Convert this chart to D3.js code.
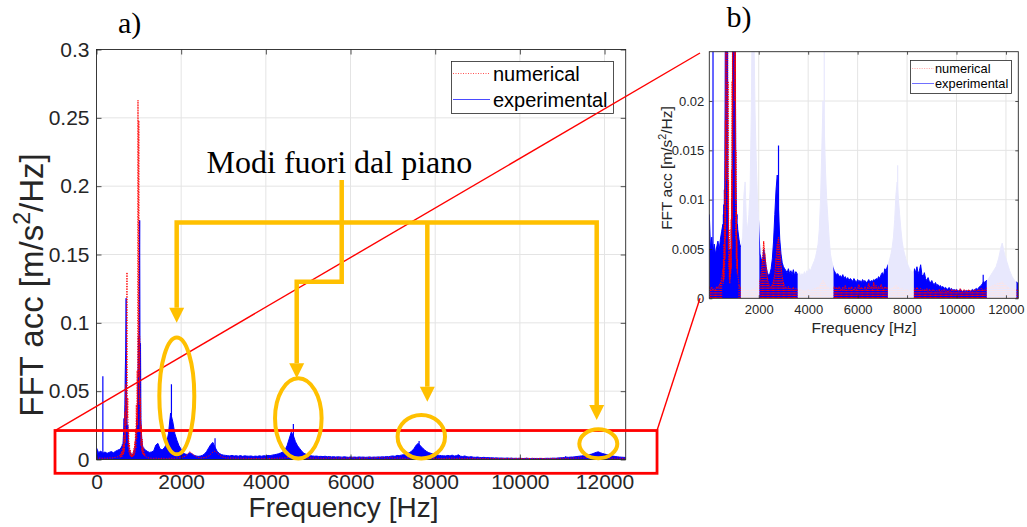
<!DOCTYPE html>
<html>
<head>
<meta charset="utf-8">
<script src="https://cdn.jsdelivr.net/npm/d3@7"></script>
<style>
  html, body { margin: 0; padding: 0; background: #fff; }
  svg { display: block; }
</style>
</head>
<body>
<svg id="fig" width="1027" height="527"></svg>
<script>
// ---------------------------------------------------------------
// Spectra (FFT of acceleration, m/s^2/Hz)
// Coarse bins every 50 Hz, fine bins every 10 Hz around the first modes
// ---------------------------------------------------------------
const COARSE_DF = 50, FINE_DF = 10;
const LOW_F0 = 0, PEAK_F0 = 550, HIGH_F0 = 1200;

// experimental, 0–500 Hz
const expLow = [0.0085, 0.0050, 0.0062, 0.0046, 0.0055, 0.0045, 0.0052, 0.0058, 0.0049, 0.0060, 0.0068];
// experimental, 550–1150 Hz (10 Hz bins)
const expPeak = [
  0.0075, 0.0060, 0.0085, 0.0070, 0.0095,
  0.0080, 0.0110, 0.0090, 0.0140, 0.0200,
  0.0300, 0.0250, 0.0400, 0.0650, 0.0800,
  0.1180, 0.0450, 0.0300, 0.0200, 0.0250,
  0.0120, 0.0090, 0.0070, 0.0050, 0.0060,
  0.0040, 0.0050, 0.0030, 0.0035, 0.0025,
  0.0040, 0.0030, 0.0050, 0.0040, 0.0070,
  0.0060, 0.0100, 0.0090, 0.0150, 0.0200,
  0.0300, 0.0250, 0.0450, 0.0600, 0.0900,
  0.0700, 0.1200, 0.1750, 0.0500, 0.0850,
  0.0300, 0.0200, 0.0150, 0.0120, 0.0100,
  0.0090, 0.0080, 0.0085, 0.0070, 0.0075,
  0.0070
];
// experimental, 1200–12500 Hz
const expHigh = [
  0.0060, 0.0052, 0.0055, 0.0062, 0.0105, 0.0118, 0.0078, 0.0070, 0.0085, 0.0110, // 1200
  0.0190, 0.0340, 0.0280, 0.0190, 0.0140, 0.0100, 0.0075, 0.0045, 0.0040, 0.0036, // 1700
  0.0050, 0.0042, 0.0032, 0.0026, 0.0023, 0.0025, 0.0030, 0.0040, 0.0058, 0.0085, // 2200
  0.0110, 0.0125, 0.0090, 0.0060, 0.0045, 0.0036, 0.0032, 0.0030, 0.0028, 0.0026, // 2700
  0.0030, 0.0025, 0.0028, 0.0024, 0.0029, 0.0023, 0.0027, 0.0025, 0.0024, 0.0026, // 3200
  0.0022, 0.0025, 0.0023, 0.0027, 0.0024, 0.0028, 0.0026, 0.0030, 0.0028, 0.0032, // 3700
  0.0035, 0.0038, 0.0042, 0.0048, 0.0055, 0.0070, 0.0100, 0.0150, 0.0200, 0.0175, // 4200
  0.0130, 0.0100, 0.0080, 0.0060, 0.0045, 0.0038, 0.0032, 0.0028, 0.0026, 0.0024, // 4700
  0.0025, 0.0022, 0.0023, 0.0021, 0.0024, 0.0020, 0.0022, 0.0019, 0.0021, 0.0018, // 5200
  0.0020, 0.0019, 0.0017, 0.0020, 0.0018, 0.0016, 0.0019, 0.0017, 0.0018, 0.0016, // 5700
  0.0019, 0.0017, 0.0018, 0.0016, 0.0017, 0.0019, 0.0016, 0.0018, 0.0017, 0.0019, // 6200
  0.0018, 0.0020, 0.0019, 0.0022, 0.0020, 0.0024, 0.0026, 0.0023, 0.0030, 0.0028, // 6700
  0.0032, 0.0035, 0.0040, 0.0045, 0.0052, 0.0062, 0.0080, 0.0105, 0.0118, 0.0100, // 7200
  0.0085, 0.0070, 0.0058, 0.0050, 0.0045, 0.0040, 0.0036, 0.0033, 0.0030, 0.0028, // 7700
  0.0027, 0.0026, 0.0030, 0.0026, 0.0032, 0.0025, 0.0028, 0.0034, 0.0024, 0.0022, // 8200
  0.0026, 0.0020, 0.0018, 0.0021, 0.0017, 0.0016, 0.0018, 0.0015, 0.0014, 0.0016, // 8700
  0.0013, 0.0014, 0.0012, 0.0013, 0.0011, 0.0012, 0.0010, 0.0011, 0.0010, 0.0009, // 9200
  0.0011, 0.0009, 0.0010, 0.0008, 0.0009, 0.0008, 0.0009, 0.0008, 0.0007, 0.0009, // 9700
  0.0008, 0.0007, 0.0008, 0.0007, 0.0008, 0.0007, 0.0008, 0.0007, 0.0008, 0.0009, // 10200
  0.0008, 0.0009, 0.0010, 0.0009, 0.0011, 0.0012, 0.0013, 0.0015, 0.0017, 0.0016, // 10700
  0.0018, 0.0018, 0.0020, 0.0022, 0.0024, 0.0026, 0.0028, 0.0030, 0.0032, 0.0036, // 11200
  0.0040, 0.0046, 0.0052, 0.0056, 0.0050, 0.0044, 0.0040, 0.0036, 0.0032, 0.0028, // 11700
  0.0025, 0.0022, 0.0020, 0.0018, 0.0017, 0.0016, 0.0015                          // 12200
];
// narrow experimental peaks [Hz, amplitude]
const expSpikes = [[150, 0.061], [1770, 0.055], [2800, 0.0155], [4650, 0.026], [7620, 0.0135], [11080, 0.0024]];

// numerical, 0–500 Hz
const numLow = [0.0012, 0.0009, 0.0011, 0.0008, 0.0010, 0.0009, 0.0012, 0.0010, 0.0013, 0.0016, 0.0020];
// numerical, 550–1150 Hz (10 Hz bins)
const numPeak = [
  0.0030, 0.0015, 0.0040, 0.0018, 0.0055,
  0.0020, 0.0075, 0.0030, 0.0110, 0.0040,
  0.0180, 0.0060, 0.0350, 0.0120, 0.0550,
  0.0250, 0.0800, 0.1370, 0.0300, 0.0450,
  0.0090, 0.0220, 0.0050, 0.0120, 0.0030,
  0.0070, 0.0020, 0.0045, 0.0015, 0.0035,
  0.0020, 0.0050, 0.0025, 0.0080, 0.0030,
  0.0130, 0.0050, 0.0220, 0.0080, 0.0400,
  0.0150, 0.0650, 0.0250, 0.2630, 0.0600,
  0.2480, 0.0400, 0.0900, 0.0200, 0.0450,
  0.0100, 0.0250, 0.0060, 0.0150, 0.0040,
  0.0090, 0.0030, 0.0060, 0.0025, 0.0040,
  0.0025
];
// numerical, 1200–12500 Hz
const numHigh = [
  0.0014, 0.0011, 0.0009, 0.0008, 0.0010, 0.0008, 0.0007, 0.0009, 0.0008, 0.0007, // 1200
  0.0009, 0.0008, 0.0010, 0.0009, 0.0011, 0.0012, 0.0015, 0.0018, 0.0025, 0.0040, // 1700
  0.0058, 0.0045, 0.0032, 0.0021, 0.0015, 0.0012, 0.0011, 0.0014, 0.0018, 0.0025, // 2200
  0.0040, 0.0055, 0.0062, 0.0048, 0.0034, 0.0022, 0.0016, 0.0012, 0.0011, 0.0010, // 2700
  0.0012, 0.0009, 0.0010, 0.0009, 0.0011, 0.0008, 0.0010, 0.0009, 0.0008, 0.0007, // 3200
  0.0009, 0.0007, 0.0008, 0.0006, 0.0008, 0.0007, 0.0009, 0.0008, 0.0007, 0.0009, // 3700
  0.0008, 0.0010, 0.0009, 0.0011, 0.0010, 0.0012, 0.0014, 0.0016, 0.0018, 0.0016, // 4200
  0.0014, 0.0012, 0.0011, 0.0010, 0.0009, 0.0010, 0.0009, 0.0012, 0.0010, 0.0011, // 4700
  0.0009, 0.0012, 0.0010, 0.0008, 0.0011, 0.0009, 0.0013, 0.0010, 0.0008, 0.0011, // 5200
  0.0009, 0.0012, 0.0010, 0.0008, 0.0011, 0.0009, 0.0010, 0.0014, 0.0009, 0.0011, // 5700
  0.0010, 0.0008, 0.0012, 0.0009, 0.0011, 0.0015, 0.0010, 0.0012, 0.0009, 0.0016, // 6200
  0.0011, 0.0013, 0.0009, 0.0012, 0.0010, 0.0014, 0.0011, 0.0009, 0.0012, 0.0010, // 6700
  0.0011, 0.0009, 0.0008, 0.0010, 0.0009, 0.0011, 0.0012, 0.0013, 0.0012, 0.0011, // 7200
  0.0010, 0.0009, 0.0010, 0.0008, 0.0009, 0.0008, 0.0009, 0.0008, 0.0007, 0.0008, // 7700
  0.0007, 0.0009, 0.0010, 0.0008, 0.0011, 0.0009, 0.0008, 0.0010, 0.0009, 0.0008, // 8200
  0.0009, 0.0008, 0.0010, 0.0007, 0.0009, 0.0008, 0.0007, 0.0009, 0.0008, 0.0007, // 8700
  0.0008, 0.0007, 0.0009, 0.0006, 0.0008, 0.0007, 0.0009, 0.0007, 0.0008, 0.0006, // 9200
  0.0008, 0.0007, 0.0009, 0.0008, 0.0007, 0.0009, 0.0008, 0.0007, 0.0008, 0.0010, // 9700
  0.0008, 0.0007, 0.0009, 0.0008, 0.0007, 0.0008, 0.0009, 0.0007, 0.0008, 0.0007, // 10200
  0.0008, 0.0009, 0.0007, 0.0008, 0.0009, 0.0008, 0.0010, 0.0009, 0.0008, 0.0009, // 10700
  0.0010, 0.0011, 0.0010, 0.0012, 0.0011, 0.0013, 0.0012, 0.0014, 0.0013, 0.0015, // 11200
  0.0014, 0.0016, 0.0015, 0.0017, 0.0015, 0.0014, 0.0013, 0.0012, 0.0011, 0.0010, // 11700
  0.0010, 0.0009, 0.0010, 0.0009, 0.0008, 0.0009, 0.0008                          // 12200
];

// axis ticks
const mainXTicks = [0, 2000, 4000, 6000, 8000, 10000, 12000];
const mainXTickLabels = ["0", "2000", "4000", "6000", "8000", "10000", "12000"];
const mainYTicks = [0, 0.05, 0.1, 0.15, 0.2, 0.25, 0.3];
const mainYTickLabels = ["0", "0.05", "0.1", "0.15", "0.2", "0.25", "0.3"];
const zoomXTicks = [2000, 4000, 6000, 8000, 10000, 12000];
const zoomXTickLabels = ["2000", "4000", "6000", "8000", "10000", "12000"];
const zoomYTicks = [0, 0.005, 0.01, 0.015, 0.02];
const zoomYTickLabels = ["0", "0.005", "0.01", "0.015", "0.02"];

// frequency bands of the out-of-plane modes (shaded in the zoom panel)
const outOfPlaneBands = [[1275, 2025], [3575, 5025], [7225, 8275], [11225, 12425]];
// ellipses around the out-of-plane peaks: centre Hz, centre amp, radius Hz, radius amp
const modeRings = [[1897, 0.0465, 413, 0.0427], [4767, 0.0301, 550, 0.0293],
                   [7672, 0.0167, 560, 0.0159], [11853, 0.0115, 449, 0.0106]];
// ---------------------------------------------------------------

const svg = d3.select("#fig");
const FONT = '"Liberation Sans", Arial, sans-serif';
const SERIF = '"Liberation Serif", "Times New Roman", serif';
const AX = "#262626", GRID = "#e4e4e4";

function series(low, peak, high) {
  const pts = [];
  low.forEach((v, i) => pts.push([LOW_F0 + i * COARSE_DF, v]));
  peak.forEach((v, i) => pts.push([PEAK_F0 + i * FINE_DF, v]));
  high.forEach((v, i) => pts.push([HIGH_F0 + i * COARSE_DF, v]));
  return pts;
}
const expData = series(expLow, expPeak, expHigh);
const numData = series(numLow, numPeak, numHigh);
// coarse numerical bins only, used for the dotted stems of the zoom panel
const numCoarse = numData.filter(d => d[0] < PEAK_F0 || d[0] >= HIGH_F0);

// panel a scales
const xA = d3.scaleLinear().domain([0, 12500]).range([96.5, 625.7]);
const yA = d3.scaleLinear().domain([0, 0.3]).range([459.5, 49.5]);
// panel b scales
const xB = d3.scaleLinear().domain([0, 12500]).range([709.3, 1018.3]);
const yB = d3.scaleLinear().domain([0, 0.025]).range([298.3, 51.7]);

const defs = svg.append("defs");

function grid(x, y, xTicks, yTicks) {
  const [x0, x1] = x.range(), [y0, y1] = y.range();
  const g = svg.append("g");
  g.selectAll("line.gx").data(xTicks).join("line")
    .attr("x1", d => x(d)).attr("x2", d => x(d)).attr("y1", y0).attr("y2", y1)
    .attr("stroke", GRID).attr("stroke-width", 1);
  g.selectAll("line.gy").data(yTicks).join("line")
    .attr("x1", x0).attr("x2", x1).attr("y1", d => y(d)).attr("y2", d => y(d))
    .attr("stroke", GRID).attr("stroke-width", 1);
}

function axes(x, y, xTicks, xLabels, yTicks, yLabels, fs, tick, padX, padY) {
  const [x0, x1] = x.range(), [y0, y1] = y.range();
  const g = svg.append("g");
  const style = sel => {
    sel.select(".domain").remove();
    sel.selectAll(".tick line").attr("stroke", AX).attr("stroke-width", 0.8);
    sel.selectAll(".tick text").attr("font-size", fs).attr("font-family", FONT).attr("fill", AX);
  };
  g.append("g").attr("transform", `translate(0,${y0})`)
    .call(d3.axisBottom(x).tickValues(xTicks).tickFormat((d, i) => xLabels[i]).tickSizeInner(-tick).tickSizeOuter(0).tickPadding(padX))
    .call(style);
  g.append("g").attr("transform", `translate(0,${y1})`)
    .call(d3.axisTop(x).tickValues(xTicks).tickFormat("").tickSizeInner(-tick).tickSizeOuter(0))
    .call(style);
  g.append("g").attr("transform", `translate(${x0},0)`)
    .call(d3.axisLeft(y).tickValues(yTicks).tickFormat((d, i) => yLabels[i]).tickSizeInner(-tick).tickSizeOuter(0).tickPadding(padY))
    .call(style);
  g.append("g").attr("transform", `translate(${x1},0)`)
    .call(d3.axisRight(y).tickValues(yTicks).tickFormat("").tickSizeInner(-tick).tickSizeOuter(0))
    .call(style);
  g.append("rect").attr("x", x0).attr("y", y1).attr("width", x1 - x0).attr("height", y0 - y1)
    .attr("fill", "none").attr("stroke", AX).attr("stroke-width", 0.9);
}

function clipRects(id, rects) {
  const cp = defs.append("clipPath").attr("id", id);
  rects.forEach(r => cp.append("rect").attr("x", r[0]).attr("y", r[1]).attr("width", r[2]).attr("height", r[3]));
}

// experimental as a filled trace, numerical as a dotted trace (optionally with dotted stems)
function drawSpectra(g, x, y, expColor, numColor, dash, stems) {
  const area = d3.area().x(d => x(d[0])).y0(y(0)).y1(d => y(d[1]));
  const line = d3.line().x(d => x(d[0])).y(d => y(d[1]));
  g.append("path").datum(expData).attr("d", area).attr("fill", expColor);
  g.append("path").datum(expData).attr("d", line).attr("fill", "none").attr("stroke", expColor).attr("stroke-width", 1);
  g.selectAll("line.spike").data(expSpikes).join("line")
    .attr("x1", d => x(d[0])).attr("x2", d => x(d[0])).attr("y1", y(0)).attr("y2", d => y(d[1]))
    .attr("stroke", expColor).attr("stroke-width", 1.2);
  if (stems) {
    g.selectAll("line.stem").data(numCoarse).join("line")
      .attr("x1", d => x(d[0])).attr("x2", d => x(d[0])).attr("y1", y(0)).attr("y2", d => y(d[1]))
      .attr("stroke", numColor).attr("stroke-width", 1.1).attr("stroke-dasharray", dash);
  }
  g.append("path").datum(numData).attr("d", line).attr("fill", "none")
    .attr("stroke", numColor).attr("stroke-width", 1).attr("stroke-dasharray", dash);
}

// ----- panel a -----
grid(xA, yA, mainXTicks, mainYTicks);
clipRects("clipA", [[96.5, 49.5, 529.2, 410]]);
drawSpectra(svg.append("g").attr("clip-path", "url(#clipA)"), xA, yA, "#0000ff", "#ff0000", "1.3,1.3", false);
axes(xA, yA, mainXTicks, mainXTickLabels, mainYTicks, mainYTickLabels, 21, 5, 14.5, 7);

// ----- panel b -----
grid(xB, yB, zoomXTicks, zoomYTicks);
const bTop = yB.range()[1], bH = yB.range()[0] - yB.range()[1];
const fadedRects = outOfPlaneBands.map(b => [xB(b[0]), bTop, xB(b[1]) - xB(b[0]), bH]);
const vividRects = [];
let prev = 0;
outOfPlaneBands.forEach(b => { vividRects.push([xB(prev), bTop, xB(b[0]) - xB(prev), bH]); prev = b[1]; });
vividRects.push([xB(prev), bTop, xB(12500) - xB(prev), bH]);
clipRects("clipBFaded", fadedRects);
clipRects("clipBVivid", vividRects);
drawSpectra(svg.append("g").attr("clip-path", "url(#clipBFaded)"), xB, yB, "#e8e8fd", "#fde4e4", "1.2,1.2", true);
drawSpectra(svg.append("g").attr("clip-path", "url(#clipBVivid)"), xB, yB, "#0000ff", "#ff0000", "1.2,1.2", true);
axes(xB, yB, zoomXTicks, zoomXTickLabels, zoomYTicks, zoomYTickLabels, 13, 3, 6, 5);

// ----- axis titles -----
function yTitle(x, y, size) {
  const t = svg.append("text").attr("transform", `translate(${x},${y}) rotate(-90)`)
    .attr("text-anchor", "middle").attr("font-family", FONT).attr("font-size", size).attr("fill", AX);
  t.append("tspan").text("FFT acc [m/s");
  t.append("tspan").attr("font-size", size * 0.7).attr("dy", -size * 0.38).text("2");
  t.append("tspan").attr("dy", size * 0.38).text("/Hz]");
}
yTitle(43, 285, 33);
svg.append("text").attr("x", 343.5).attr("y", 517).attr("text-anchor", "middle")
  .attr("font-family", FONT).attr("font-size", 28).attr("fill", AX).text("Frequency [Hz]");
yTitle(672, 168, 15.5);
svg.append("text").attr("x", 864).attr("y", 333).attr("text-anchor", "middle")
  .attr("font-family", FONT).attr("font-size", 15.5).attr("fill", AX).text("Frequency [Hz]");

// ----- panel labels -----
svg.append("text").attr("x", 118).attr("y", 32.5).attr("font-family", SERIF).attr("font-size", 30).text("a)");
svg.append("text").attr("x", 726.5).attr("y", 26.5).attr("font-family", SERIF).attr("font-size", 30).text("b)");

// ----- legends -----
function legend(x, y, w, h, fs, rows, lineX0, lineX1, textX) {
  const g = svg.append("g");
  g.append("rect").attr("x", x).attr("y", y).attr("width", w).attr("height", h)
    .attr("fill", "#fff").attr("stroke", AX).attr("stroke-width", 0.8);
  rows.forEach(r => {
    g.append("line").attr("x1", lineX0).attr("x2", lineX1).attr("y1", r.ly).attr("y2", r.ly)
      .attr("stroke", r.color).attr("stroke-width", 1).attr("stroke-dasharray", r.dash || null);
    g.append("text").attr("x", textX).attr("y", r.ty).attr("font-family", FONT).attr("font-size", fs)
      .attr("fill", "#000").text(r.label);
  });
}
legend(451.5, 61.5, 162, 52, 20, [
  { label: "numerical", color: "#ff5050", dash: "1,1.5", ly: 73.5, ty: 80.5 },
  { label: "experimental", color: "#4a4aff", ly: 99.5, ty: 106.5 }
], 453, 490, 493);
legend(910.5, 60.5, 101, 33, 12.8, [
  { label: "numerical", color: "#ffb0b0", dash: "1.2,1.2", ly: 68.5, ty: 73 },
  { label: "experimental", color: "#7070ff", ly: 83.5, ty: 88 }
], 912, 934, 935);

// ----- zoom window on panel a and connectors to panel b -----
const zoomBox = { f0: -980, f1: 13240, a0: -0.0101, a1: 0.0212 };
svg.append("rect").attr("x", xA(zoomBox.f0)).attr("y", yA(zoomBox.a1))
  .attr("width", xA(zoomBox.f1) - xA(zoomBox.f0)).attr("height", yA(zoomBox.a0) - yA(zoomBox.a1))
  .attr("fill", "none").attr("stroke", "#ff0000").attr("stroke-width", 2.8);
svg.append("line").attr("x1", xA(zoomBox.f0)).attr("y1", yA(zoomBox.a1))
  .attr("x2", xB(-376)).attr("y2", yB(0.02487))
  .attr("stroke", "#ff0000").attr("stroke-width", 1.4);
svg.append("line").attr("x1", xA(zoomBox.f1)).attr("y1", yA(zoomBox.a1))
  .attr("x2", xB(-376)).attr("y2", yB(0))
  .attr("stroke", "#ff0000").attr("stroke-width", 1.4);

// ----- out-of-plane annotation -----
const GOLD = "#ffc000";
const ann = svg.append("g");
svg.append("text").attr("x", xA(2600)).attr("y", yA(0.2096)).attr("font-family", SERIF)
  .attr("font-size", 32).attr("fill", "#000").text("Modi fuori dal piano");
ann.selectAll("ellipse").data(modeRings).join("ellipse")
  .attr("cx", d => xA(d[0])).attr("cy", d => yA(d[1]))
  .attr("rx", d => xA(d[2]) - xA(0)).attr("ry", d => yA(0) - yA(d[3]))
  .attr("fill", "none").attr("stroke", GOLD).attr("stroke-width", 4);

const stemF = 5792, busA = 0.1735, HEAD = 15, HALF = 7.5;
// polylines in (Hz, amplitude) ending at an arrow tip
const routes = [
  [[stemF, busA], [1894, busA], [1894, 0.1001]],
  [[stemF, busA], [11815, busA], [11815, 0.0289]],
  [[7814, busA], [7814, 0.0423]],
  [[stemF, 0.2045], [stemF, 0.130], [4729, 0.130], [4729, 0.0594]]
];
routes.forEach(r => {
  const pts = r.map(p => [xA(p[0]), yA(p[1])]);
  const tip = pts[pts.length - 1];
  const shaft = pts.slice(0, -1).concat([[tip[0], tip[1] - HEAD]]);
  ann.append("path").attr("d", d3.line()(shaft)).attr("fill", "none")
    .attr("stroke", GOLD).attr("stroke-width", 4.5).attr("stroke-linejoin", "miter");
  ann.append("path")
    .attr("d", `M${tip[0]},${tip[1]} L${tip[0] - HALF},${tip[1] - HEAD} L${tip[0] + HALF},${tip[1] - HEAD} Z`)
    .attr("fill", GOLD);
});
</script>
</body>
</html>
